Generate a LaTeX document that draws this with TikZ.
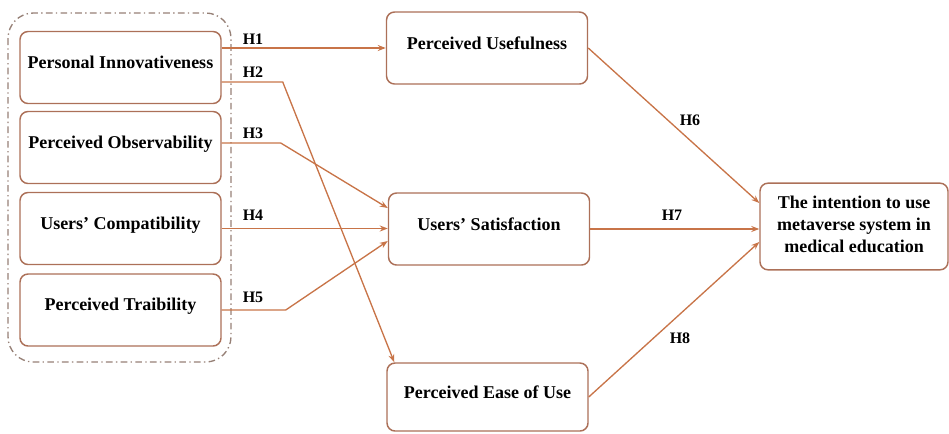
\documentclass[tikz,border=0pt]{standalone}
\usepackage{fontspec}
\setmainfont{Liberation Serif}
\usetikzlibrary{arrows.meta,calc}

\definecolor{boxcol}{RGB}{172,112,88}
\definecolor{linecol}{RGB}{200,116,72}
\definecolor{groupcol}{RGB}{150,128,118}

\tikzset{
  construct/.style={draw=boxcol, line width=1.1pt, rounded corners=6pt, fill=white,
    minimum width=150.75pt, minimum height=54pt, align=center, text depth=8pt,
    font=\bfseries\fontsize{13.5}{16.5}\selectfont},
  link/.style={draw=linecol, line width=1pt, -{Stealth[length=6pt,width=4.5pt]}},
  hyp/.style={font=\bfseries\fontsize{12}{14}\selectfont, inner sep=1pt}
}

\begin{document}
\begin{tikzpicture}[x=0.75pt,y=-0.75pt]
    \useasboundingbox (0,0) rectangle (949,433);

    % Group of the external variables
    \draw[groupcol, line width=1pt, dash pattern=on 5pt off 2.5pt on 1pt off 2.5pt,
          rounded corners=19pt] (8,13) rectangle (231,362);

    % Constructs - left side
    \node[construct] (pi) at (120.5,67.5) {Personal Innovativeness};
    \node[construct] (po) at (120.5,147.5) {Perceived Observability};
    \node[construct] (uc) at (120.5,228.5) {Users' Compatibility};
    \node[construct] (pt) at (120.5,310) {Perceived Traibility};

    % Constructs - middle
    \node[construct] (pu) at (487,48) {Perceived Usefulness};
    \node[construct] (us) at (489,229) {Users' Satisfaction};
    \node[construct, minimum height=51pt] (pe) at (487.5,397) {Perceived Ease of Use};

    % Outcome
    \node[construct, text depth=3pt, minimum width=141pt, minimum height=65pt] (in) at (854,226.5)
        {The intention to use\\metaverse system in\\medical education};

    % Hypotheses
    \draw[link] (pi.east |- pu.west) -- (pu.west);
    \draw[link] ($(pi.east)+(0,14.5)$) -- ++(61,0) -- ($(pe.north west)+(8,0)$);
    \draw[link] ($(po.east)+(0,-4.5)$) -- ++(59,0) -- ($(us.west)+(0,-21)$);
    \draw[link] (uc.east) -- (uc.east -| us.west);
    \draw[link] (pt.east) -- ++(64,0) -- ($(us.west)+(0,12)$);
    \draw[link] (pu.east) -- ($(in.west)+(0,-23.5)$);
    \draw[link] (us.east) -- (us.east -| in.west);
    \draw[link] (pe.east) -- ($(in.west)+(0,15.5)$);

    \node[hyp] (h1) at (253,39) {H1};
    \node[hyp] (h2) at (253,72) {H2};
    \node[hyp] (h3) at (253,133) {H3};
    \node[hyp] (h4) at (253,215) {H4};
    \node[hyp] (h5) at (253,297) {H5};
    \node[hyp] (h6) at (690,120) {H6};
    \node[hyp] (h7) at (672,215) {H7};
    \node[hyp] (h8) at (680,338) {H8};
\end{tikzpicture}
\end{document}
